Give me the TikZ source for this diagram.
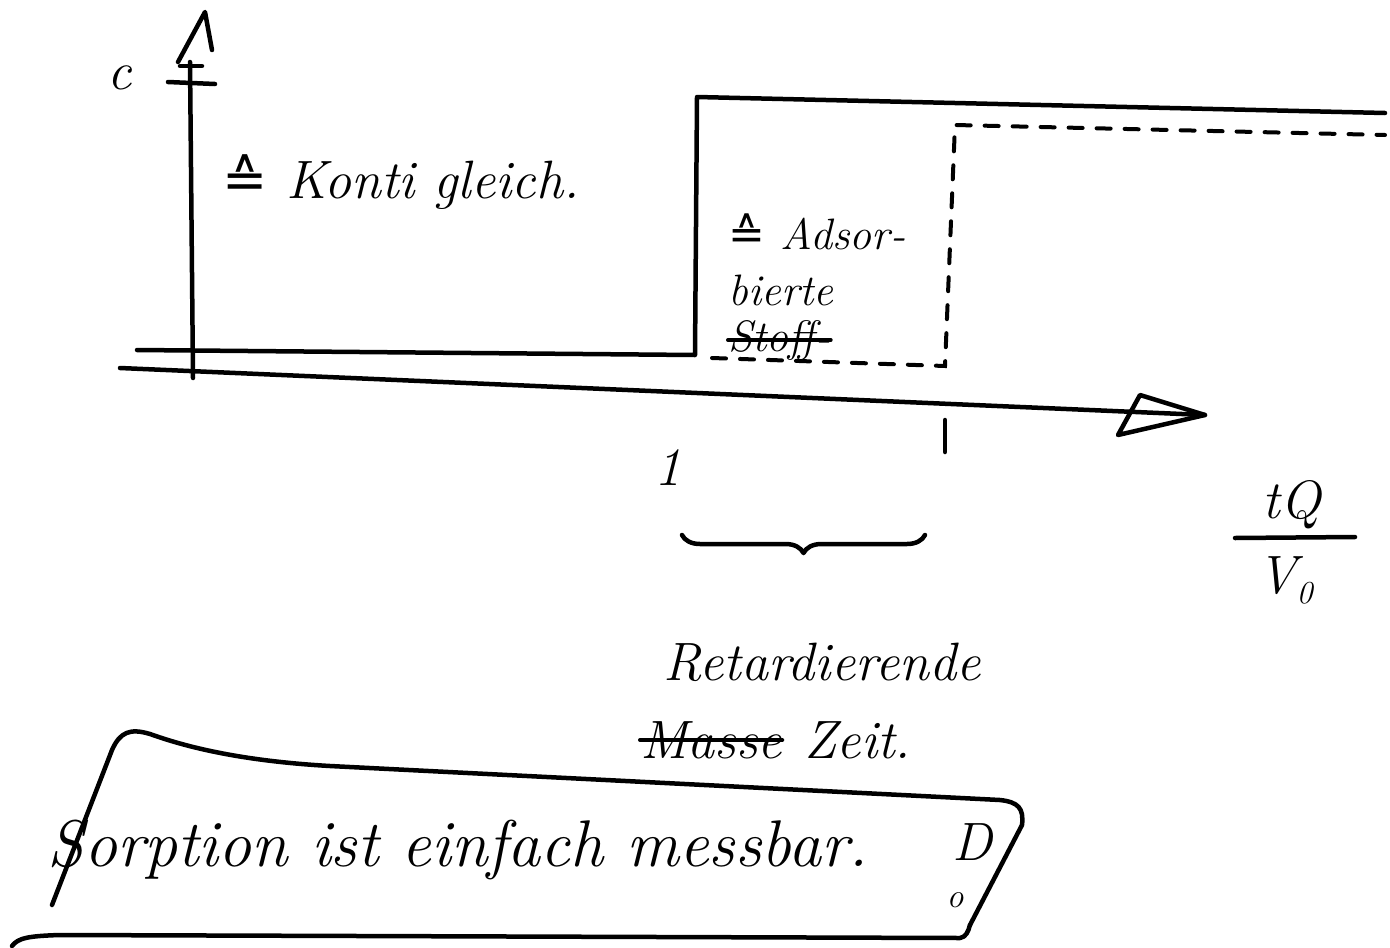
\documentclass[tikz,border=0pt]{standalone}
\usepackage{fontspec}
\newfontfamily\symfont{DejaVu Sans}
\usetikzlibrary{decorations.pathreplacing}
\begin{document}
\begin{tikzpicture}[x=1pt,y=-1pt,
  ink/.style={line width=4.5pt,line cap=round,line join=round},
  dashink/.style={line width=4pt,line cap=round,dash pattern=on 14pt off 14pt},
  strike/.style={line width=4pt,line cap=round},
  hand/.style={font=\fontsize{54}{60}\selectfont\itshape,inner sep=0pt},
  big/.style={font=\fontsize{66}{72}\selectfont\itshape,inner sep=0pt},
  small/.style={font=\fontsize{44}{52}\selectfont\itshape,inner sep=0pt}]
\useasboundingbox[fill=white] (0,0) rectangle (1390,948);
% axes
\coordinate (yb) at (193,378);
\coordinate (yt) at (190,62);
\coordinate (xl) at (120,368);
\coordinate (xr) at (1205,415);
\draw[ink] (yb) -- (yt);
\draw[ink] (178,62) -- (205,12) -- (212,50);
\draw[ink] (168,82) -- (215,84);
\draw[ink] (180,66) -- (202,66);
\draw[ink] (xl) -- (xr);
\draw[ink] (1118,435) -- (1140,395) -- (1205,415) -- cycle;
\node[hand] (c) at (120,78) {c};
% solid step curve
\coordinate (s0) at (137,350);
\coordinate (s1) at (695,355);
\coordinate (s2) at (697,97);
\coordinate (s3) at (1385,113);
\draw[ink] (s0) -- (s1) -- (s2) -- (s3);
% dashed step curve
\coordinate (d0) at (712,358);
\coordinate (d1) at (945,366);
\coordinate (d2) at (955,125);
\coordinate (d3) at (1385,135);
\draw[dashink] (d0) -- (d1) -- (d2) -- (d3);
% labels in regions
\node[hand,anchor=west] (konti) at (222,182) {{\upshape\symfont ≙} Konti gleich.};
\node[small,anchor=west] (ads1) at (728,232) {{\upshape\symfont ≙} Adsor-};
\node[small,anchor=west] (ads2) at (728,290) {bierte};
\node[small,anchor=west] (ads3) at (728,340) {Stoff-};
\draw[strike] (ads3.west) -- (ads3.east);
% ticks
\node[hand] (one) at (668,468) {1};
\coordinate (t1) at (945,420);
\coordinate (t2) at (945,452);
\draw[ink] (t1) -- (t2);
% brace
\draw[ink,decorate,decoration={brace,mirror,amplitude=18pt}] (682,535) -- (925,535);
\node[hand] (ret1) at (822,662) {Retardierende};
\node[hand,anchor=west] (masse) at (640,740) {Masse};
\draw[strike] (masse.west) -- (masse.east);
\node[hand,anchor=west] (zeit) at ([xshift=22pt]masse.east) {Zeit.};
% fraction
\node[hand] (num) at (1292,505) {tQ};
\node[hand] (den) at (1285,580) {V\raisebox{-10pt}{\fontsize{32}{32}\selectfont 0}};
\coordinate (fl) at (1235,538);
\coordinate (fr) at (1355,537);
\draw[ink] (fl) -- (fr);
% box
\draw[ink] (52,905) -- (112,750) .. controls (120,732) and (130,728) .. (150,734)
  .. controls (200,752) and (260,762) .. (330,766) -- (1000,800)
  .. controls (1018,802) and (1024,808) .. (1022,825) -- (970,925);
\draw[ink] (12,946) .. controls (18,938) and (28,936) .. (60,935) -- (960,938)
  .. controls (966,937) and (968,932) .. (970,925);
\node[big] (sorp) at (458,850) {Sorption ist einfach messbar.};
\node[hand] (dd) at (972,842) {D};
\node[font=\fontsize{34}{34}\selectfont\itshape,inner sep=0pt] (oo) at (955,900) {o};
\end{tikzpicture}
\end{document}
